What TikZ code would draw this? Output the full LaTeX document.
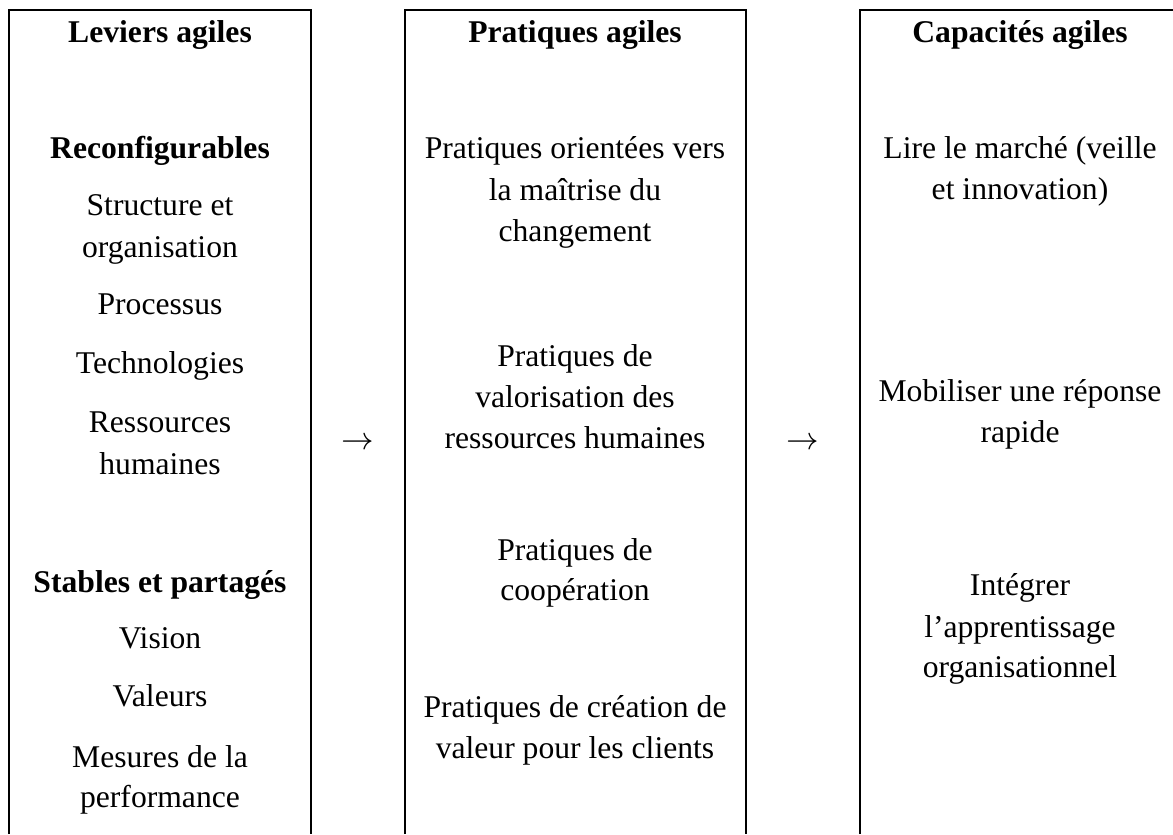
\documentclass[tikz,border=0pt]{standalone}
\usepackage{fontspec}
\setmainfont{Liberation Serif}
\tikzset{
  colbox/.style={line width=0.75pt},
  lbl/.style={anchor=base, inner sep=0pt, font=\fontsize{9}{11.8}\selectfont},
}
\begin{document}
\begin{tikzpicture}
  \useasboundingbox (0,0) rectangle (11.73,-8.34);
  % Three columns, open at the bottom
  \draw[colbox] (0.09,-8.34) -- (0.09,-0.10) -- (3.11,-0.10) -- (3.11,-8.34);
  \draw[colbox] (4.05,-8.34) -- (4.05,-0.10) -- (7.46,-0.10) -- (7.46,-8.34);
  \draw[colbox] (8.60,-8.34) -- (8.60,-0.10) -- (11.73,-0.10);

  % Leviers
  \foreach \t/\y [count=\n] in {\textbf{Leviers agiles}/0.42, \textbf{Reconfigurables}/1.58,
      Structure et/2.15, organisation/2.57, Processus/3.14, Technologies/3.73,
      Ressources/4.32, humaines/4.74, \textbf{Stables et partagés}/5.92,
      Vision/6.48, Valeurs/7.06, Mesures de la/7.67, performance/8.07}
    \node[lbl] (lev\n) at (1.60,-\y) {\t};

  % Pratiques
  \foreach \t/\y [count=\n] in {\textbf{Pratiques agiles}/0.42,
      Pratiques orientées vers/1.58, la maîtrise du/2.00, changement/2.41,
      Pratiques de/3.66, valorisation des/4.07, ressources humaines/4.48,
      Pratiques de/5.60, coopération/6.00,
      Pratiques de création de/7.17, valeur pour les clients/7.58}
    \node[lbl] (pra\n) at (5.75,-\y) {\t};

  % Capacites
  \foreach \t/\y [count=\n] in {\textbf{Capacités agiles}/0.42,
      Lire le marché (veille/1.58, et innovation)/1.99,
      Mobiliser une réponse/4.01, rapide/4.42,
      Intégrer/5.95, l’apprentissage/6.37, organisationnel/6.77}
    \node[lbl] (cap\n) at (10.20,-\y) {\t};

  % Arrows between columns
  \node[lbl] (arrA) at (3.575,-4.49) {$\rightarrow$};
  \node[lbl] (arrB) at (8.025,-4.49) {$\rightarrow$};
\end{tikzpicture}
\end{document}
